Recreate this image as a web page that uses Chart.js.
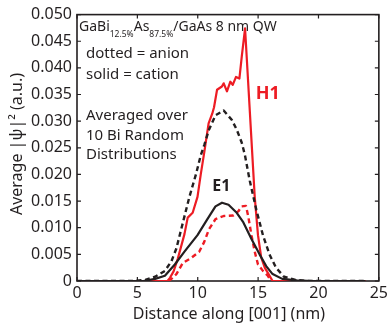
<!DOCTYPE html>
<html lang="en">
<head>
<meta charset="UTF-8">
<title>Average |psi|^2 along [001]</title>
<style>
  html, body { margin: 0; padding: 0; background: #fff; }
  canvas { display: block; }
</style>
</head>
<body>
<canvas id="chart" width="391" height="328"></canvas>

<script src="https://cdn.jsdelivr.net/npm/chart.js"></script>
<script>
// ticks
var xTicks = [0, 5, 10, 15, 20, 25];
var yTicks = [0, 0.005, 0.010, 0.015, 0.020, 0.025, 0.030, 0.035, 0.040, 0.045, 0.050];

// H1 cation (red solid)
var h1CationX = [0, 7.5, 7.7, 8.0, 8.35, 8.9, 9.17, 9.58, 9.98, 10.25, 10.53, 10.9, 11.2, 11.35, 11.6, 12.0, 12.15, 12.42, 12.7, 12.9, 13.17, 13.45, 13.65, 13.92, 14.72, 14.99, 15.25, 15.55, 15.94, 16.2, 23.9];
var h1CationY = [0, 0, 0.0006, 0.0018, 0.0042, 0.0088, 0.0119, 0.0128, 0.0158, 0.0200, 0.0240, 0.0296, 0.0314, 0.0326, 0.0359, 0.0365, 0.0371, 0.0356, 0.0374, 0.0368, 0.0383, 0.0380, 0.0422, 0.0474, 0.0158, 0.0086, 0.0045, 0.0025, 0.0010, 0, 0];

// H1 anion (red dashed)
var h1AnionX = [7.6, 7.82, 8.23, 8.77, 9.44, 10.12, 10.53, 10.93, 11.47, 12.15, 12.96, 13.37, 13.64, 13.99, 14.18, 14.45, 14.72, 14.99, 15.4, 15.8, 16.07];
var h1AnionY = [0, 0.0004, 0.0013, 0.0034, 0.0043, 0.0055, 0.0073, 0.0097, 0.0116, 0.0122, 0.0123, 0.0131, 0.0140, 0.0141, 0.0122, 0.0086, 0.0055, 0.0031, 0.0019, 0.0010, 0];

// E1 cation (black solid)
var e1CationX = [0, 5.5, 6.47, 7.28, 8.1, 8.9, 9.98, 10.8, 11.47, 12.01, 12.55, 13.23, 13.78, 14.45, 15.12, 15.67, 16.2, 17.0, 18.2, 19.5, 23.9];
var e1CationY = [0, 0, 0.0004, 0.0010, 0.0031, 0.0055, 0.0086, 0.0116, 0.0140, 0.0147, 0.0143, 0.0128, 0.0110, 0.0079, 0.0050, 0.0028, 0.0013, 0.0004, 0.0001, 0, 0];

// E1 anion (black dashed)
var e1AnionX = [0, 4.5, 5.66, 6.47, 7.28, 7.82, 8.23, 8.63, 9.31, 9.85, 10.25, 10.55, 10.93, 11.47, 12.15, 12.83, 13.23, 13.64, 13.91, 14.31, 14.85, 15.4, 15.94, 16.48, 17.15, 18.1, 19.2, 23.9];
var e1AnionY = [0, 0, 0.0002, 0.0008, 0.0019, 0.0037, 0.0061, 0.0097, 0.0158, 0.0200, 0.0236, 0.0256, 0.0284, 0.0311, 0.0320, 0.0302, 0.0284, 0.0260, 0.0236, 0.0188, 0.0134, 0.0086, 0.0050, 0.0025, 0.0008, 0.0002, 0, 0];

var RED = '#ed1c24';
var INK = '#231f20';
var FONT = '"Noto Sans", "Open Sans", sans-serif';

function pts(xs, ys) {
    return xs.map(function(x, i) { return { x: x, y: ys[i] }; });
}

function drawRun(ctx, parts, x, y) {
    // parts: [text, font, dy]
    parts.forEach(function(p) {
        ctx.font = p[1];
        ctx.fillText(p[0], x, y + p[2]);
        x += ctx.measureText(p[0]).width;
    });
}

var framePlugin = {
    id: 'frame',
    beforeDatasetsDraw: function(chart) {
        var ctx = chart.ctx, a = chart.chartArea;
        var xs = chart.scales.x, ys = chart.scales.y;
        ctx.save();
        ctx.strokeStyle = INK;
        ctx.lineWidth = 1.6;
        ctx.strokeRect(a.left, a.top, a.right - a.left, a.bottom - a.top);
        ctx.beginPath();
        xTicks.forEach(function(v) {
            var px = xs.getPixelForValue(v);
            ctx.moveTo(px, a.bottom); ctx.lineTo(px, a.bottom - 4);
            ctx.moveTo(px, a.top); ctx.lineTo(px, a.top + 4);
        });
        yTicks.forEach(function(v) {
            var py = ys.getPixelForValue(v);
            ctx.moveTo(a.left, py); ctx.lineTo(a.left + 4, py);
            ctx.moveTo(a.right, py); ctx.lineTo(a.right - 4, py);
        });
        ctx.lineWidth = 1.2;
        ctx.stroke();
        ctx.restore();
    },
    afterDraw: function(chart) {
        var ctx = chart.ctx, a = chart.chartArea;
        var xs = chart.scales.x, ys = chart.scales.y;
        ctx.save();
        ctx.fillStyle = INK;
        ctx.textBaseline = 'alphabetic';
        ctx.textAlign = 'left';

        // heading with subscripts
        var big = '14px ' + FONT, sub = '8.5px ' + FONT;
        drawRun(ctx, [
            ['GaBi', big, 0], ['12.5%', sub, 6.5],
            ['As', big, 0], ['87.5%', sub, 6.5],
            ['/GaAs 8 nm QW', big, 0]
        ], a.left + 2, a.top + 16);

        ctx.font = '15px ' + FONT;
        ctx.fillText('dotted = anion', a.left + 9, 58);
        ctx.fillText('solid = cation', a.left + 9, 79);
        ctx.fillText('Averaged over', a.left + 9, 120);
        ctx.fillText('10 Bi Random', a.left + 9, 139.5);
        ctx.fillText('Distributions', a.left + 9, 159);

        // curve labels
        ctx.font = 'bold 18px ' + FONT;
        ctx.fillStyle = RED;
        ctx.fillText('H1', xs.getPixelForValue(14.8), ys.getPixelForValue(0.0342));
        ctx.font = 'bold 16px ' + FONT;
        ctx.fillStyle = INK;
        ctx.fillText('E1', xs.getPixelForValue(11.2), ys.getPixelForValue(0.0169));

        // axis titles
        ctx.font = '16px ' + FONT;
        ctx.textAlign = 'center';
        ctx.fillText('Distance along [001] (nm)', (a.left + a.right) / 2 + 1, 319);
        ctx.translate(22, 144);
        ctx.rotate(-Math.PI / 2);
        ctx.fillText('Average |\u03c8|\u00b2 (a.u.)', 0, 0);
        ctx.restore();
    }
};

var ctx = document.getElementById('chart').getContext('2d');
var chart = new Chart(ctx, {
    type: 'line',
    data: {
        datasets: [{
            label: 'E1 anion',
            data: pts(e1AnionX, e1AnionY),
            borderColor: INK,
            borderWidth: 2.4,
            borderDash: [5, 3.5]
        }, {
            label: 'E1 cation',
            data: pts(e1CationX, e1CationY),
            borderColor: INK,
            borderWidth: 2.2
        }, {
            label: 'H1 anion',
            data: pts(h1AnionX, h1AnionY),
            borderColor: RED,
            borderWidth: 2.4,
            borderDash: [5, 3.5]
        }, {
            label: 'H1 cation',
            data: pts(h1CationX, h1CationY),
            borderColor: RED,
            borderWidth: 2.2
        }]
    },
    options: {
        responsive: false,
        animation: false,
        events: [],
        elements: {
            point: { radius: 0 },
            line: { tension: 0, fill: false, borderJoinStyle: 'round' }
        },
        layout: { padding: { top: 5, right: 6, left: 0, bottom: 0 } },
        plugins: {
            legend: { display: false },
            tooltip: { enabled: false }
        },
        scales: {
            x: {
                type: 'linear',
                min: 0,
                max: 25,
                afterBuildTicks: function(s) { s.ticks = xTicks.map(function(v) { return { value: v }; }); },
                afterFit: function(s) { s.height = 47; },
                grid: { display: false, drawTicks: false },
                border: { display: false },
                ticks: {
                    color: INK,
                    padding: 3,
                    maxRotation: 0,
                    font: { family: FONT, size: 16 },
                    callback: function(v) { return String(v); }
                }
            },
            y: {
                min: 0,
                max: 0.05,
                afterBuildTicks: function(s) { s.ticks = yTicks.map(function(v) { return { value: v }; }); },
                afterFit: function(s) { s.width = 77; },
                grid: { display: false, drawTicks: false },
                border: { display: false },
                ticks: {
                    color: INK,
                    padding: 5,
                    font: { family: FONT, size: 16 },
                    callback: function(v) { return v === 0 ? '0' : v.toFixed(3); }
                }
            }
        }
    },
    plugins: [framePlugin]
});
</script>
</body>
</html>
